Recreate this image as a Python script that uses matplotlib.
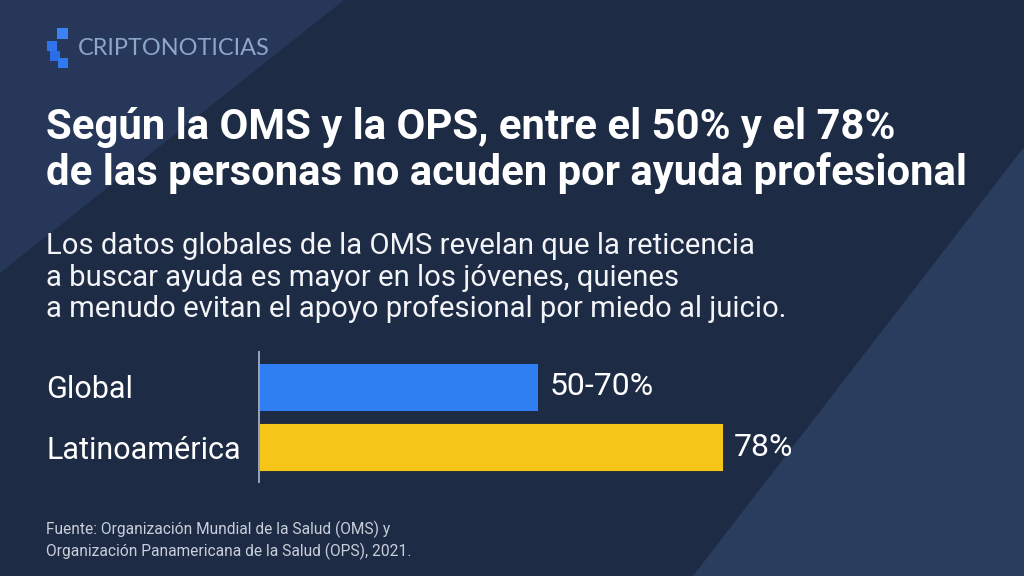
import matplotlib
matplotlib.use("Agg")
import matplotlib.pyplot as plt
from matplotlib.patches import Polygon, Rectangle

# ---- data ----
categories = ["Global", "Latinoamérica"]
values = [47, 78]                 # bar lengths as drawn (percent)
value_labels = ["50-70%", "78%"]
bar_colors = ["#2f7ff2", "#f5c518"]

title_lines = ["Según la OMS y la OPS, entre el 50% y el 78%",
               "de las personas no acuden por ayuda profesional"]
subtitle_lines = ["Los datos globales de la OMS revelan que la reticencia",
                  "a buscar ayuda es mayor en los jóvenes, quienes",
                  "a menudo evitan el apoyo profesional por miedo al juicio."]
footer_lines = ["Fuente: Organización Mundial de la Salud (OMS) y",
                "Organización Panamericana de la Salud (OPS), 2021."]
brand = "CRIPTONOTICIAS"

W, H = 1024, 576
fig = plt.figure(figsize=(W / 100, H / 100), dpi=100)
fig.patch.set_facecolor("#1e2b45")

bg = fig.add_axes([0, 0, 1, 1], zorder=0)
bg.set_xlim(0, W)
bg.set_ylim(H, 0)
bg.axis("off")
bg.add_patch(Rectangle((0, 0), W, H, color="#1e2b45", zorder=0))
bg.add_patch(Polygon([(0, 0), (344, 0), (0, 273)], closed=True, color="#26375a", zorder=0.5, lw=0))
bg.add_patch(Polygon([(1024, 147), (1024, 576), (693, 576)], closed=True, color="#2a3d5e", zorder=0.5, lw=0))

renderer = fig.canvas.get_renderer()


def fit(t, target_w):
    w = t.get_window_extent(renderer).width
    t.set_fontsize(t.get_fontsize() * target_w / w)
    return t.get_fontsize()


# logo squares
for (x, y, s, c) in [(57, 28, 11, "#3b82f6"), (47, 41, 10, "#2f74ea"),
                     (50, 51, 10, "#2a6ee6"), (58, 58, 10, "#2f78ee")]:
    bg.add_patch(Rectangle((x, y), s, s, color=c, zorder=2, lw=0))
t = bg.text(78, 55, brand, color="#8ea6c9", fontsize=15, family=["Lato", "DejaVu Sans"],
            va="baseline", ha="left", zorder=3)
fit(t, 192)

# title
title_texts = []
for i, line in enumerate(title_lines):
    title_texts.append(bg.text(46, 139 + i * 46, line, color="white", fontsize=30,
                               fontweight="bold", family=["Roboto", "DejaVu Sans"],
                               va="baseline", ha="left", zorder=3))
fs = fit(title_texts[1], 966 - 46)
title_texts[0].set_fontsize(fs)

# subtitle
sub_texts = []
for i, line in enumerate(subtitle_lines):
    sub_texts.append(bg.text(46, 254 + i * 31.5, line, color="#f2f4f7", fontsize=20,
                             family=["Roboto", "DejaVu Sans"], va="baseline",
                             ha="left", zorder=3))
fs = fit(sub_texts[0], 752 - 46)
for t in sub_texts[1:]:
    t.set_fontsize(fs)

# footer
foot_texts = []
for i, line in enumerate(footer_lines):
    foot_texts.append(bg.text(46, 534 + i * 22, line, color="#c8cfdb", fontsize=11,
                              family=["Roboto", "DejaVu Sans"], va="baseline",
                              ha="left", zorder=3))
fs = fit(foot_texts[0], 388 - 46)
foot_texts[1].set_fontsize(fs)

# ---- bar chart ----
ax_left, ax_w = 258.6, 595
ax_top, ax_bot = 352, 482
ax = fig.add_axes([ax_left / W, (H - ax_bot) / H, ax_w / W, (ax_bot - ax_top) / H], zorder=2)
ax.patch.set_alpha(0)
ypos = list(range(len(categories)))
ax.barh(ypos, values, height=0.8, color=bar_colors, edgecolor="#1a2438", linewidth=0.6, zorder=2)
ax.set_xlim(0, 100)
ax.set_ylim(1.583, -0.583)
for s in ["top", "right", "bottom"]:
    ax.spines[s].set_visible(False)
ax.spines["left"].set_color("#9aa6b8")
ax.spines["left"].set_linewidth(1.4)
ax.set_xticks([])
ax.set_yticks(ypos)
ax.set_yticklabels(categories, family=["Roboto", "DejaVu Sans"], fontsize=22, color="white")
ax.tick_params(axis="y", length=0, pad=(ax_left - 46) * 0.72)
for lab in ax.get_yticklabels():
    lab.set_horizontalalignment("left")

for y, v, lab in zip(ypos, values, value_labels):
    ax.annotate(lab, (v, y), xytext=(8, 0), textcoords="offset points",
                va="center", ha="left", color="white", fontsize=23,
                family=["Roboto", "DejaVu Sans"])

fig.savefig("out.png", dpi=100, facecolor=fig.get_facecolor())
